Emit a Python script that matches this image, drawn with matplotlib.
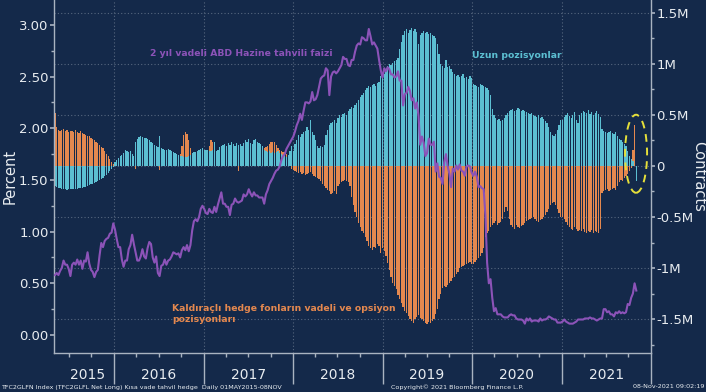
import matplotlib
matplotlib.use("Agg")
import matplotlib.pyplot as plt
import matplotlib.dates as mdates
import matplotlib.ticker as mticker
from matplotlib.patches import Ellipse
import pandas as pd

# weekly observations, first week 2015-05-05
# 2-year US Treasury yield, percent
yield_2015 = [0.58, 0.60, 0.58, 0.62, 0.65, 0.72, 0.68, 0.68, 0.64, 0.57,
              0.68, 0.70, 0.68, 0.73, 0.68, 0.72, 0.64, 0.72, 0.71, 0.80,
              0.69, 0.63, 0.61, 0.56, 0.61, 0.63, 0.77, 0.89, 0.85, 0.91,
              0.93, 0.94, 0.98, 0.99, 1.08]
yield_2016 = [1.02, 0.93, 0.85, 0.85, 0.73, 0.66, 0.72, 0.72, 0.83, 0.87,
              0.97, 0.88, 0.80, 0.72, 0.72, 0.76, 0.83, 0.76, 0.74, 0.84,
              0.90, 0.88, 0.75, 0.70, 0.76, 0.60, 0.57, 0.67, 0.68, 0.73,
              0.68, 0.72, 0.73, 0.76, 0.80, 0.79, 0.78, 0.79, 0.75, 0.82,
              0.85, 0.82, 0.87, 0.81, 0.87, 1.01, 1.10, 1.12, 1.10, 1.14,
              1.22, 1.25]
yield_2017 = [1.22, 1.18, 1.17, 1.22, 1.19, 1.18, 1.24, 1.19, 1.26, 1.32,
              1.38, 1.27, 1.27, 1.24, 1.24, 1.16, 1.26, 1.27, 1.32, 1.29,
              1.28, 1.29, 1.30, 1.36, 1.34, 1.36, 1.41, 1.37, 1.34, 1.38,
              1.35, 1.35, 1.33, 1.33, 1.33, 1.27, 1.36, 1.40, 1.46, 1.49,
              1.52, 1.56, 1.59, 1.60, 1.63, 1.69, 1.73, 1.75, 1.80, 1.83,
              1.86, 1.89]
yield_2018 = [1.92, 1.97, 2.03, 2.07, 2.14, 2.08, 2.17, 2.25, 2.25, 2.24,
              2.26, 2.35, 2.27, 2.28, 2.32, 2.40, 2.48, 2.50, 2.51, 2.58,
              2.56, 2.32, 2.50, 2.54, 2.55, 2.53, 2.55, 2.58, 2.61, 2.69,
              2.67, 2.67, 2.61, 2.60, 2.66, 2.66, 2.74, 2.80, 2.82, 2.81,
              2.88, 2.87, 2.85, 2.85, 2.96, 2.89, 2.81, 2.83, 2.80, 2.77,
              2.66, 2.56]
yield_2019 = [2.49, 2.58, 2.55, 2.59, 2.57, 2.52, 2.52, 2.49, 2.50, 2.55,
              2.46, 2.46, 2.22, 2.33, 2.34, 2.40, 2.36, 2.27, 2.29, 2.19,
              2.25, 2.12, 1.84, 1.92, 1.86, 1.73, 1.76, 1.90, 1.84, 1.84,
              1.87, 1.58, 1.66, 1.53, 1.52, 1.46, 1.67, 1.75, 1.63, 1.56,
              1.43, 1.61, 1.58, 1.64, 1.60, 1.65, 1.59, 1.58, 1.54, 1.63,
              1.64, 1.63, 1.57]
yield_2020 = [1.54, 1.58, 1.53, 1.43, 1.44, 1.42, 1.41, 1.16, 0.70, 0.50,
              0.54, 0.36, 0.23, 0.26, 0.20, 0.20, 0.20, 0.18, 0.17, 0.17,
              0.17, 0.19, 0.20, 0.19, 0.19, 0.16, 0.15, 0.15, 0.15, 0.14,
              0.11, 0.16, 0.14, 0.16, 0.13, 0.14, 0.14, 0.14, 0.13, 0.16,
              0.14, 0.15, 0.15, 0.16, 0.18, 0.17, 0.16, 0.15, 0.15, 0.12,
              0.12, 0.12]
yield_2021 = [0.13, 0.15, 0.13, 0.12, 0.11, 0.11, 0.11, 0.12, 0.13, 0.15,
              0.15, 0.15, 0.15, 0.16, 0.16, 0.16, 0.17, 0.16, 0.16, 0.15,
              0.14, 0.15, 0.16, 0.16, 0.25, 0.25, 0.22, 0.23, 0.20, 0.20,
              0.18, 0.22, 0.21, 0.23, 0.21, 0.22, 0.21, 0.22, 0.30, 0.29,
              0.36, 0.40, 0.50, 0.43]

# long positions, thousands of contracts
long_2015 = [-200, -205, -215, -220, -225, -228, -230, -232, -228, -230,
             -225, -228, -222, -225, -220, -218, -215, -210, -205, -195,
             -190, -180, -175, -165, -155, -145, -135, -125, -115, -100,
             -85, -70, -50, -30, -10]
long_2016 = [40, 60, 80, 95, 110, 130, 160, 150, 140, 145,
             120, 95, 240, 260, 280, 290, 285, 275, 270, 260,
             250, 240, 230, 210, 200, 190, 290, 180, 165, 160,
             155, 170, 160, 150, 140, 130, 120, 110, 100, 95,
             90, 85, 90, 95, 110, 130, 140, 135, 150, 160,
             170, 175]
long_2017 = [160, 155, 160, 150, 150, 160, 240, 150, 160, 190,
             200, 210, 220, 200, 230, 210, 240, 220, 200, 230,
             210, 220, 200, 230, 250, 240, 260, 230, 220, 250,
             260, 240, 230, 220, 200, 160, 150, 140, 150, 130,
             140, 130, 140, 150, 130, 120, 110, 100, 90, 110,
             150, 200]
long_2018 = [150, 220, 250, 300, 280, 310, 330, 340, 380, 350,
             450, 330, 300, 250, 200, 180, 200, 190, 210, 300,
             350, 400, 420, 430, 450, 420, 470, 500, 480, 510,
             520, 500, 540, 560, 580, 570, 600, 620, 650, 680,
             700, 720, 740, 760, 780, 770, 790, 800, 780, 810,
             820, 880]
long_2019 = [860, 900, 950, 980, 1000, 990, 1010, 1030, 1040, 1060,
             1150, 1220, 1280, 1320, 1340, 1300, 1330, 1350, 1320, 1340,
             1310, 1200, 1280, 1300, 1320, 1300, 1310, 1290, 1300, 1280,
             1270, 1250, 1200, 1100, 1000, 980, 960, 1040, 970, 980,
             950, 920, 900, 880, 890, 870, 880, 900, 860, 870,
             850, 880, 860]
long_2020 = [800, 790, 780, 770, 800, 790, 780, 770, 760, 740,
             700, 560, 500, 470, 450, 460, 440, 450, 470, 500,
             520, 540, 550, 560, 540, 550, 570, 560, 540, 550,
             540, 530, 520, 510, 520, 500, 490, 480, 500, 470,
             480, 460, 440, 420, 380, 330, 300, 290, 310, 350,
             400, 450]
long_2021 = [450, 480, 500, 520, 490, 470, 500, 530, 450, 420,
             500, 520, 540, 530, 520, 550, 510, 530, 500, 520,
             540, 510, 480, 360, 340, 330, 320, 330, 340, 320,
             310, 330, 290, 260, 250, 240, 220, 200, 150, 100,
             70, 50, 0, -150]

# leveraged funds short positions, thousands of contracts
short_2015 = [520, 380, 350, 340, 355, 360, 345, 350, 330, 345,
              340, 335, 350, 330, 325, 340, 320, 310, 300, 290,
              295, 270, 260, 250, 240, 225, 210, 190, 175, 150,
              120, 95, 70, 40, 15]
short_2016 = [10, 5, 0, 5, 10, 20, 30, 20, 10, 0,
              10, 20, -30, 10, 20, 30, 20, 10, 20, 30,
              40, 30, 20, 30, 40, 20, -40, 10, 30, 40,
              50, 60, 70, 80, 60, 50, 60, 80, 120, 200,
              300, 330, 310, 250, 180, 100, 60, 40, 30, 20,
              30, 40]
short_2017 = [40, 60, 120, 200, 250, 240, 200, 150, 100, 60,
              40, 30, 20, 30, 20, 10, 20, 30, 20, 10,
              -50, 10, 20, 30, 20, 10, 20, 30, 40, 50,
              60, 80, 100, 120, 150, 180, 190, 200, 220, 240,
              235, 240, 210, 180, 160, 150, 140, 140, 120, 60,
              20, -30]
short_2018 = [-40, -50, -60, -70, -60, -80, -70, -90, -80, -70,
              -60, -80, -100, -110, -120, -130, -150, -180, -200, -220,
              -240, -250, -270, -260, -250, -270, -200, -180, -160, -150,
              -140, -150, -160, -200, -300, -380, -450, -500, -560, -600,
              -640, -660, -700, -740, -780, -800, -820, -790, -800, -760,
              -780, -850]
short_2019 = [-800, -830, -880, -950, -1020, -1090, -1150, -1180, -1210, -1260,
              -1300, -1340, -1380, -1420, -1440, -1470, -1500, -1520, -1540, -1500,
              -1480, -1460, -1490, -1500, -1520, -1540, -1550, -1530, -1540, -1520,
              -1500, -1450, -1400, -1300, -1250, -1200, -1180, -1190, -1170, -1150,
              -1130, -1100, -1090, -1060, -1040, -1000, -990, -980, -970, -960,
              -950, -940, -960]
short_2020 = [-960, -940, -920, -900, -880, -850, -800, -700, -660, -640,
              -600, -580, -560, -540, -580, -560, -550, -520, -450, -400,
              -440, -520, -580, -600, -620, -580, -600, -610, -590, -580,
              -560, -540, -530, -520, -510, -500, -520, -540, -550, -530,
              -520, -500, -480, -450, -420, -380, -360, -350, -380, -420,
              -460, -500]
short_2021 = [-500, -520, -550, -580, -600, -620, -630, -600, -620, -640,
              -630, -640, -620, -650, -660, -640, -650, -630, -660, -640,
              -650, -660, -620, -260, -250, -240, -230, -250, -240, -230,
              -220, -240, -200, -160, -140, -150, -120, -100, -80, -50,
              -20, 160, 400, 0]

years = ["2015", "2016", "2017", "2018", "2019", "2020", "2021"]

yield_2y = (yield_2015 + yield_2016 + yield_2017 + yield_2018
            + yield_2019 + yield_2020 + yield_2021)
long_pos = (long_2015 + long_2016 + long_2017 + long_2018
            + long_2019 + long_2020 + long_2021)
short_pos = (short_2015 + short_2016 + short_2017 + short_2018
             + short_2019 + short_2020 + short_2021)
dates = pd.date_range("2015-05-05", periods=len(yield_2y), freq="7D")

BG = "#14294a"
GRID = "#56677f"
SPINE = "#a9b3c1"
TXT = "#e8ecf0"
CYAN = "#5cbfd2"
ORANGE = "#e4884f"
PURPLE = "#8c53b8"

fig = plt.figure(figsize=(7.06, 3.92), dpi=100, facecolor=BG)
ax = fig.add_axes([54 / 706, 39 / 392, 597 / 706, 353 / 392])
ax2 = ax.twinx()
ax.set_zorder(ax2.get_zorder() + 1)
ax.patch.set_visible(False)
ax2.patch.set_visible(False)

# contracts (right axis)
ax2.bar(dates, short_pos, width=5.2, color=ORANGE, zorder=2)
ax2.bar(dates, long_pos, width=5.2, color=CYAN, zorder=2)
ax2.set_ylim(-1833, 1627)
ax2.yaxis.set_major_locator(mticker.MultipleLocator(500))
ax2.yaxis.set_minor_locator(mticker.MultipleLocator(250))
ax2.yaxis.set_major_formatter(mticker.FuncFormatter(
    lambda v, p: "0" if v == 0 else f"{v / 1000:g}M"))
ax2.set_axisbelow(True)
ax2.yaxis.grid(True, ls=(0, (1, 2)), color=GRID, lw=0.8)
for y in years[1:] + ["2022"]:
    ax2.axvline(pd.Timestamp(f"{y}-01-01"), ls=(0, (1, 2)), color=GRID,
                lw=0.8, zorder=0.5)

# yield (left axis)
ax.plot(dates, yield_2y, color=PURPLE, lw=1.5, zorder=3)
ax.set_ylim(-0.174, 3.24)
ax.yaxis.set_major_locator(mticker.MultipleLocator(0.5))
ax.yaxis.set_minor_locator(mticker.MultipleLocator(0.25))
ax.yaxis.set_major_formatter(mticker.FormatStrFormatter("%.2f"))

ax.set_xlim(pd.Timestamp("2015-05-01"), pd.Timestamp("2022-01-01"))
ax.xaxis.set_major_locator(mdates.YearLocator())
ax.xaxis.set_minor_locator(mdates.MonthLocator((1, 4, 7, 10)))
ax.xaxis.set_major_formatter(mticker.NullFormatter())
ax.tick_params(axis="x", which="major", length=22, width=1, color=SPINE)
ax.tick_params(axis="x", which="minor", length=3, width=1, color=SPINE)

for a in (ax, ax2):
    a.tick_params(axis="y", which="major", length=3, width=1.2,
                  color=SPINE, labelcolor=TXT, labelsize=9.5, pad=1)
    a.tick_params(axis="y", which="minor", length=2, width=1, color=SPINE)
    for s in a.spines.values():
        s.set_visible(False)
ax.spines["left"].set_visible(True)
ax.spines["bottom"].set_visible(True)
ax2.spines["right"].set_visible(True)
for s in (ax.spines["left"], ax.spines["bottom"], ax2.spines["right"]):
    s.set_color(SPINE)
    s.set_linewidth(1)

# year labels centred in each visible year
lab_pos = [pd.Timestamp("2015-09-15")] + [pd.Timestamp(f"{y}-07-02")
                                          for y in years[1:]]
for y, d in zip(years, lab_pos):
    ax.text(d, -0.062, y, transform=ax.get_xaxis_transform(), ha="center",
            va="center", color=TXT, fontsize=10)

ax.set_ylabel("Percent", color=TXT, fontsize=10.5)
ax.yaxis.set_label_coords(-0.061, 0.5)
ax2.set_ylabel("Contracts", color=TXT, fontsize=10.5, rotation=270,
               va="center")
ax2.yaxis.set_label_coords(1.079, 0.5)

# annotations
fig.text(150 / 706, 1 - 53 / 392, "2 yıl vadeli ABD Hazine tahvili faizi",
         color=PURPLE, fontsize=6.7, fontweight="bold", va="center")
fig.text(472 / 706, 1 - 55 / 392, "Uzun pozisyonlar", color=CYAN,
         fontsize=6.7, fontweight="bold", va="center")
fig.text(172 / 706, 1 - 314 / 392,
         "Kaldıraçlı hedge fonların vadeli ve opsiyon\npozisyonları",
         color=ORANGE, fontsize=6.7, fontweight="bold", va="center",
         linespacing=1.3)

ax2.add_patch(Ellipse((mdates.date2num(pd.Timestamp("2021-11-01")), 120),
                      width=90, height=765, fill=False, ec="#e5df3a",
                      ls=(0, (4, 3)), lw=1.4, zorder=5))

fig.text(0.002, 5 / 392,
         "TFC2GLFN Index (TFC2GLFL Net Long) Kısa vade tahvil hedge  "
         "Daily 01MAY2015-08NOV", color=TXT, fontsize=4.6, va="center")
fig.text(457 / 706, 5 / 392, "Copyright© 2021 Bloomberg Finance L.P.",
         color=TXT, fontsize=4.6, va="center", ha="center")
fig.text(0.998, 5 / 392, "08-Nov-2021 09:02:19", color=TXT, fontsize=4.6,
         va="center", ha="right")

fig.savefig("out.png", dpi=100, facecolor=BG)
